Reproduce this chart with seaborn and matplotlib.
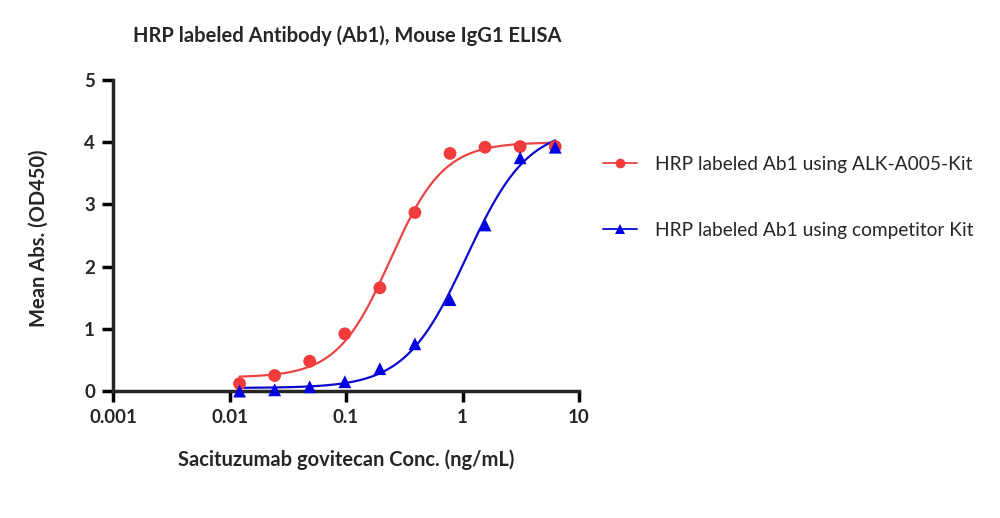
import numpy as np
import pandas as pd
import matplotlib
matplotlib.use("Agg")
import matplotlib.pyplot as plt
from matplotlib.lines import Line2D
import seaborn as sns

# ---------------------------------------------------------------------------
# data
# ---------------------------------------------------------------------------
conc = [0.0122, 0.0244, 0.0488, 0.0977, 0.1953, 0.3906, 0.7813, 1.5625, 3.125, 6.25]
abs_alk = [0.12, 0.25, 0.48, 0.92, 1.66, 2.87, 3.82, 3.92, 3.93, 3.93]
abs_comp = [0.00, 0.02, 0.07, 0.15, 0.36, 0.76, 1.47, 2.67, 3.75, 3.92]

# 4PL fit parameters: bottom, top, EC50, hill
fit_alk = (0.22, 4.00, 0.24, 1.9)
fit_comp = (0.05, 4.25, 1.08, 1.65)

label_alk = "HRP labeled Ab1 using ALK-A005-Kit"
label_comp = "HRP labeled Ab1 using competitor Kit"
x_ticks = [0.001, 0.01, 0.1, 1, 10]
x_ticklabels = ["0.001", "0.01", "0.1", "1", "10"]
y_ticks = [0, 1, 2, 3, 4, 5]

RED_PT = "#F23B3B"
RED_LN = "#EA4444"
BLUE_PT = "#0000E6"
BLUE_LN = "#0A0AD0"


def four_pl(x, p):
    bottom, top, ec50, hill = p
    return bottom + (top - bottom) / (1 + (ec50 / x) ** hill)


sns.set_style("ticks")
plt.rcParams["font.family"] = ["Lato", "DejaVu Sans"]

pts = pd.DataFrame({
    "conc": conc * 2,
    "abs": abs_alk + abs_comp,
    "kit": [label_alk] * len(conc) + [label_comp] * len(conc),
})
xs = np.logspace(np.log10(conc[0]), np.log10(conc[-1]), 200)
curves = pd.DataFrame({
    "conc": np.concatenate([xs, xs]),
    "abs": np.concatenate([four_pl(xs, fit_alk), four_pl(xs, fit_comp)]),
    "kit": [label_alk] * len(xs) + [label_comp] * len(xs),
})
palette_ln = {label_alk: RED_LN, label_comp: BLUE_LN}
palette_pt = {label_alk: RED_PT, label_comp: BLUE_PT}

fig = plt.figure(figsize=(10, 5.18), dpi=100)
ax = fig.add_axes([0.113, 0.245, 0.466, 0.6005])

sns.lineplot(data=curves, x="conc", y="abs", hue="kit", palette=palette_ln,
             lw=1.6, legend=False, ax=ax)
sns.scatterplot(data=pts, x="conc", y="abs", hue="kit", style="kit",
                markers={label_alk: "o", label_comp: "^"}, palette=palette_pt,
                s=85, linewidth=0, legend=False, ax=ax, zorder=3, clip_on=False)

ax.set_xscale("log")
ax.set_xlim(0.001, 10)
ax.set_ylim(0, 5)
ax.set_xticks(x_ticks)
ax.set_xticklabels(x_ticklabels)
ax.xaxis.set_minor_locator(matplotlib.ticker.NullLocator())
ax.set_yticks(y_ticks)
for lab in ax.get_xticklabels() + ax.get_yticklabels():
    lab.set_fontweight("bold")
    lab.set_fontsize(13.5)
ax.tick_params(width=2.5, length=8, color="black", pad=5)
for side in ["left", "bottom"]:
    ax.spines[side].set_linewidth(2.5)
sns.despine(ax=ax)

ax.set_xlabel("")
ax.set_ylabel("")
fig.text(0.346, 0.112, "Sacituzumab govitecan Conc. (ng/mL)", ha="center", va="center",
         fontsize=14.5, fontweight="bold")
fig.text(0.039, 0.541, "Mean Abs. (OD450)", ha="center", va="center", rotation=90,
         fontsize=14.5, fontweight="bold")
fig.text(0.347, 0.932, "HRP labeled Antibody (Ab1), Mouse IgG1 ELISA", ha="center",
         va="center", fontsize=14.5, fontweight="bold")

handles = [
    Line2D([], [], color=RED_LN, lw=1.3, marker="o", markersize=7,
           markerfacecolor=RED_PT, markeredgewidth=0),
    Line2D([], [], color=BLUE_LN, lw=1.3, marker="^", markersize=7,
           markerfacecolor=BLUE_PT, markeredgewidth=0),
]
fig.legend(handles, [label_alk, label_comp], loc="upper left",
           bbox_to_anchor=(0.593, 0.718), frameon=False, fontsize=13.8,
           handlelength=1.8, handletextpad=0.95, labelspacing=2.55, borderpad=0)

fig.savefig("out.png", dpi=100)
